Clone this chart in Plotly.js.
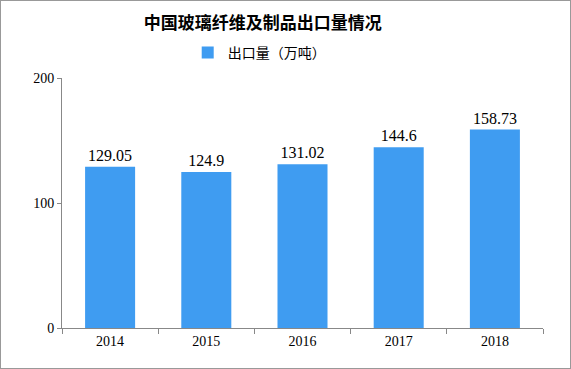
<!DOCTYPE html>
<html><head><meta charset="utf-8">
<script src="https://cdn.plot.ly/plotly-3.0.1.min.js"></script>
<style>
html,body{margin:0;padding:0;background:#fff;}
#wrap{width:571px;height:369px;box-sizing:border-box;border:1px solid #999;overflow:hidden;}
#chart{width:569px;height:367px;}
</style></head>
<body><div id="wrap"><div id="chart"></div></div>
<script>
const years = ['2014','2015','2016','2017','2018'];
const exportVolume = [129.05, 124.9, 131.02, 144.6, 158.73];
const valueLabels = ['129.05','124.9','131.02','144.6','158.73'];
const seriesName = '出口量（万吨）';
const chartTitle = '中国玻璃纤维及制品出口量情况';

const numFont = '"Liberation Serif","DejaVu Serif",serif';
Plotly.newPlot('chart', [{
  type: 'bar', x: years, y: exportVolume, name: seriesName,
  marker: {color: '#3f9cf1'}, width: 0.52,
  text: valueLabels, textposition: 'outside', cliponaxis: false,
  textfont: {family: numFont, size: 16, color: '#000'}
}], {
  width: 569, height: 367,
  margin: {l: 61, r: 27, t: 77, b: 40},
  paper_bgcolor: '#fff', plot_bgcolor: '#fff',
  title: {text: '<b>' + chartTitle + '</b>', x: 0.46, xanchor: 'center', y: 0.94, yanchor: 'middle',
    font: {family: '"Noto Sans CJK SC", sans-serif', size: 17, color: '#000'}},
  showlegend: true,
  legend: {orientation: 'h', x: 0.41, xanchor: 'center', y: 1.1, yanchor: 'middle',
    font: {family: '"Noto Sans CJK SC", sans-serif', size: 14, color: '#000'},
    itemwidth: 30},
  bargap: 0.48,
  xaxis: {type: 'category', showline: true, linecolor: '#888', linewidth: 1,
    ticks: 'outside', tickson: 'boundaries', ticklen: 5, tickcolor: '#888',
    tickfont: {family: numFont, size: 14, color: '#000'}, showgrid: false, zeroline: false},
  yaxis: {range: [0, 200], tickvals: [0, 100, 200], showline: true, linecolor: '#888', linewidth: 1,
    ticks: 'outside', ticklen: 4, tickcolor: '#888', showgrid: false, zeroline: false,
    tickfont: {family: numFont, size: 14, color: '#000'}}
}, {displayModeBar: false, staticPlot: true});
</script></body></html>
